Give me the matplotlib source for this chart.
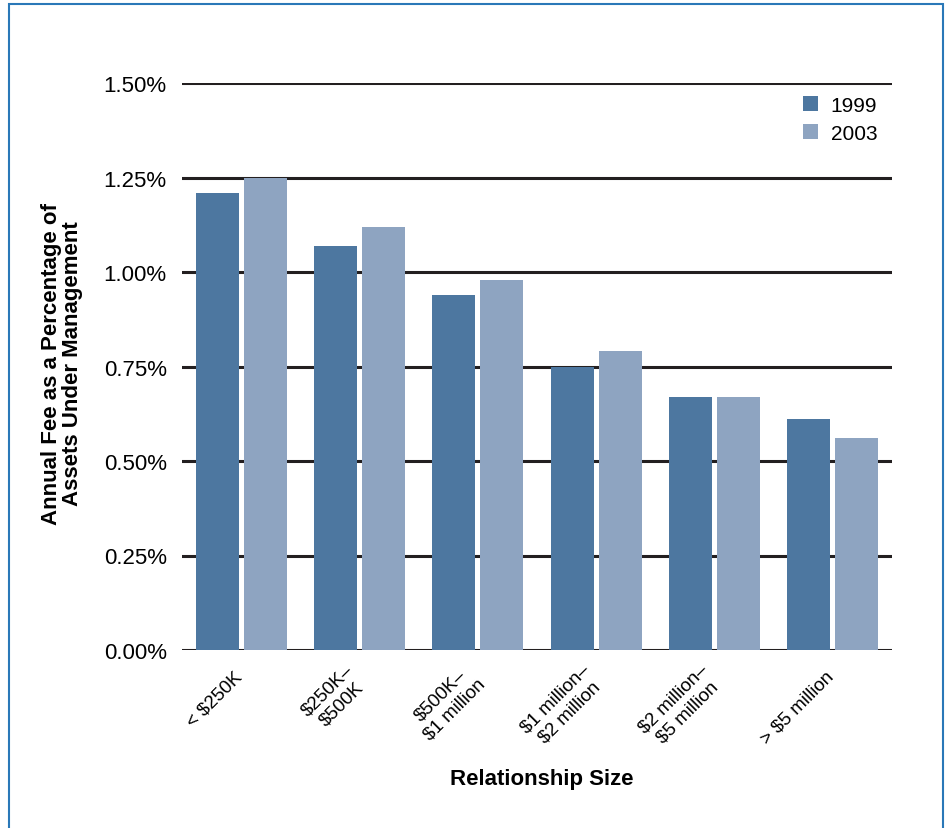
import matplotlib
matplotlib.use("Agg")
import matplotlib.pyplot as plt
import numpy as np
from matplotlib.patches import Rectangle
import matplotlib.transforms as mtransforms

categories = ["< $250K", "$250K–\n$500K", "$500K–\n$1 million",
              "$1 million–\n$2 million", "$2 million–\n$5 million", "> $5 million"]
fee_1999 = [1.21, 1.07, 0.94, 0.75, 0.67, 0.61]
fee_2003 = [1.25, 1.12, 0.98, 0.79, 0.67, 0.56]
yticks = [0.0, 0.25, 0.5, 0.75, 1.0, 1.25, 1.5]
ytick_labels = ["0.00%", "0.25%", "0.50%", "0.75%", "1.00%", "1.25%", "1.50%"]

plt.rcParams['font.family'] = ['Liberation Sans', 'DejaVu Sans']

fig = plt.figure(figsize=(9.51, 8.29), dpi=100)
ax = fig.add_axes([182/951, 1-651/829, (892-182)/951, (651-84)/829])

c1999 = "#4d77a0"
c2003 = "#8ea4c1"
x = np.arange(len(categories))
w = 0.363
off = 0.203
ax.bar(x - off, fee_1999, w, color=c1999, label="1999", zorder=3)
ax.bar(x + off, fee_2003, w, color=c2003, label="2003", zorder=3)

ax.set_xlim(-0.5, len(categories) - 0.5)
ax.set_ylim(0, 1.5)
ax.set_yticks(yticks)
ax.set_yticklabels(ytick_labels, fontsize=16)
ax.yaxis.grid(True, color="#231f20", linewidth=2.2, zorder=1)
ax.set_axisbelow(True)
ax.tick_params(axis='y', length=0, pad=11)
ax.tick_params(axis='x', length=0, pad=17)
for s in ax.spines.values():
    s.set_visible(False)

ax.set_xticks(x)
ax.set_xticklabels(categories, fontsize=13.5, rotation=45, ha='right', va='center',
                   rotation_mode='anchor', multialignment='center')
shift = mtransforms.ScaledTranslation(-2/100, 0, fig.dpi_scale_trans)
for lbl in ax.get_xticklabels():
    lbl.set_transform(lbl.get_transform() + shift)

fig.text(62/951, 1-364/829, "Annual Fee as a Percentage of\nAssets Under Management",
         rotation=90, ha='center', va='center', fontsize=16, fontweight='bold',
         multialignment='center', linespacing=1.0)
fig.text(542/951, 1-780/829, "Relationship Size", ha='center', va='center',
         fontsize=16, fontweight='bold')

leg = ax.legend(loc='upper right', bbox_to_anchor=(1.0, 1.003), frameon=False,
                fontsize=15, handlelength=0.75, handleheight=0.75,
                handletextpad=0.6, labelspacing=0.42, borderaxespad=0.3)

fig.patches.append(Rectangle((9/951, -0.01), (943-9)/951, 1-5/829+0.01,
                             transform=fig.transFigure, fill=False,
                             edgecolor="#2a78b8", linewidth=1.5))

fig.savefig("out.png", dpi=100)
